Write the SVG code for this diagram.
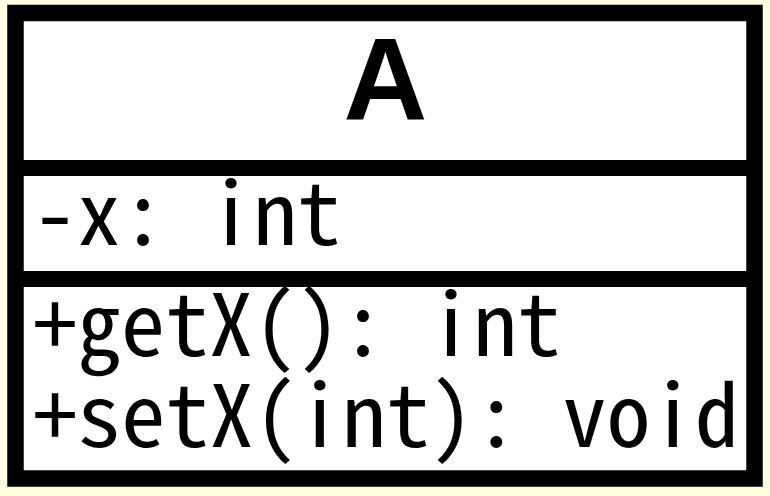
<svg xmlns="http://www.w3.org/2000/svg" width="770" height="496" viewBox="0 0 770 496">
  <style>
    .frame { fill: #ffffff; stroke: #000000; stroke-width: 16.5; }
    .divider { stroke: #000000; stroke-width: 16; }
    .title { font-family: "Liberation Sans", Arial, sans-serif; font-weight: bold; font-size: 116px; fill: #000000; text-anchor: middle; }
    .member { font-family: "Noto Sans Mono CJK JP", "DejaVu Sans Mono", "Liberation Mono", monospace; font-size: 86px; fill: #000000; }
  </style>
  <rect x="0" y="0" width="770" height="496" fill="#ffffe0"/>
  <g id="connectors"/>
  <g id="class-A">
    <rect class="frame" x="15.5" y="13" width="739" height="465.5"/>
    <line class="divider" x1="15.5" y1="168" x2="754.5" y2="168"/>
    <line class="divider" x1="15.5" y1="279" x2="754.5" y2="279"/>
    <text class="title" x="385.5" y="120">A</text>
    <text class="member" x="33" y="245" textLength="308" lengthAdjust="spacingAndGlyphs">-x: int</text>
    <text class="member" x="33" y="356" textLength="528" lengthAdjust="spacingAndGlyphs">+getX(): int</text>
    <text class="member" x="33" y="447" textLength="706" lengthAdjust="spacingAndGlyphs">+setX(int): void</text>
  </g>
</svg>
